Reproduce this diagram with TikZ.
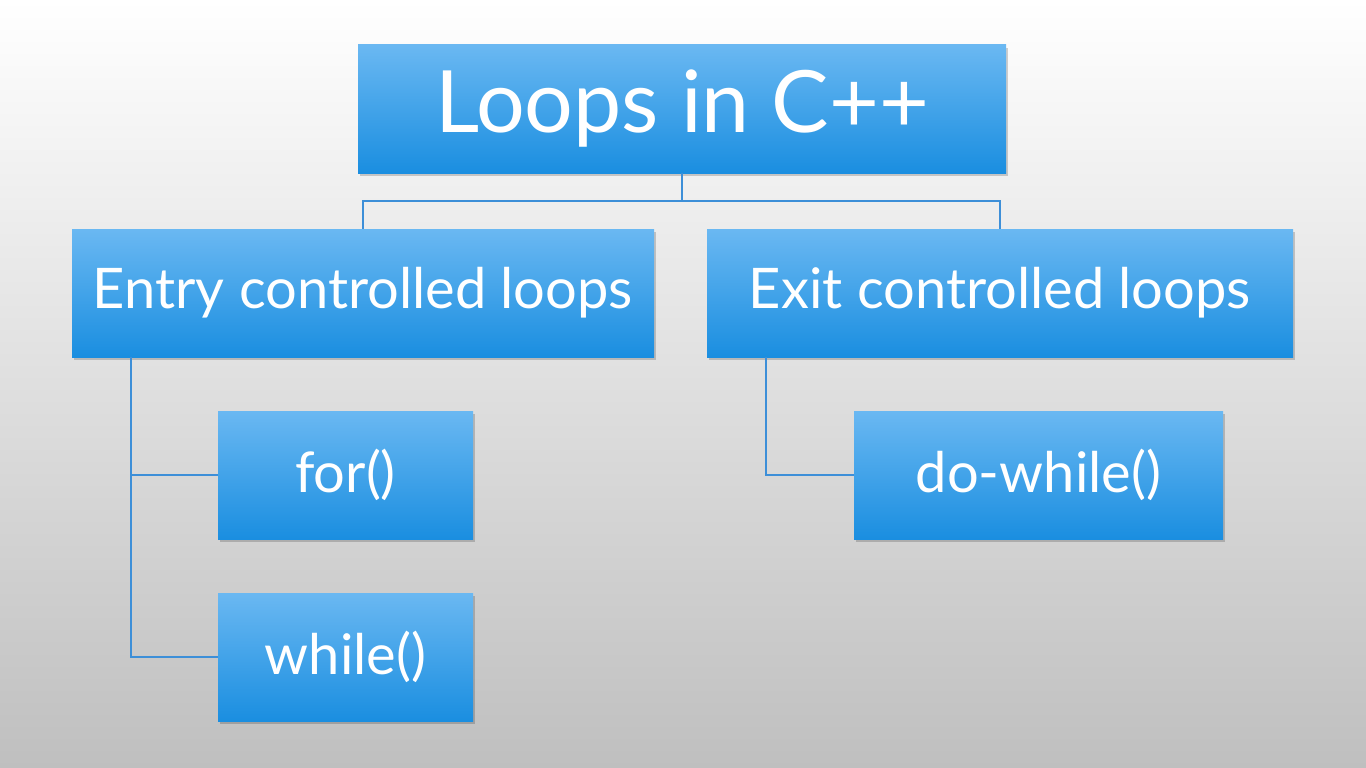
\documentclass[tikz,border=0pt]{standalone}
\usepackage{fontspec}
\setmainfont{Lato}
\usepackage{tikz}
\usetikzlibrary{shadows}
\definecolor{hautbleu}{HTML}{6AB8F2}
\definecolor{basbleu}{HTML}{1A8EE0}
\definecolor{trait}{HTML}{3D8FD8}
\definecolor{fondmilieu}{HTML}{EBEBEB}
\definecolor{fondbas}{HTML}{BFBFBF}
\tikzset{
  boite/.style={rectangle, top color=hautbleu, bottom color=basbleu, draw=none,
    text=white, inner sep=0pt, outer sep=0pt, align=center,
    minimum height=128pt,
    drop shadow={shadow xshift=2pt, shadow yshift=-3pt, opacity=0.18, fill=black}},
  titre/.style={boite, font=\fontsize{86}{96}\selectfont},
  sous/.style={boite, font=\fontsize{56}{62}\selectfont},
  lien/.style={draw=trait, line width=1.1pt},
}

\begin{document}
\begin{tikzpicture}[x=1pt, y=-1pt]
    % fond
    \shade[top color=white, middle color=fondmilieu, bottom color=fondbas]
      (0,0) rectangle (1366,768);
    \useasboundingbox (0,0) rectangle (1366,768);

    \node[titre, minimum width=648pt] (loops) at (682,109) {Loops in C++};
    \node[sous, minimum width=582pt] (entry) at (363,293) {Entry controlled loops};
    \node[sous, minimum width=586pt] (exit) at (1000,293) {Exit controlled loops};
    \node[sous, minimum width=255pt] (for) at (345.5,475) {for()};
    \node[sous, minimum width=255pt] (while) at (345.5,657) {while()};
    \node[sous, minimum width=369pt] (dowhile) at (1038.5,475) {do-while()};

    \coordinate (fourche) at ([yshift=-28pt]loops.south);
    \coordinate (brasentry) at ([xshift=59pt]entry.south west);
    \coordinate (brasexit) at ([xshift=59pt]exit.south west);

    \draw[lien] (loops.south) -- (fourche);
    \draw[lien] (fourche) -| (entry.north);
    \draw[lien] (fourche) -| (exit.north);
    \draw[lien] (brasentry) |- (for.west);
    \draw[lien] (brasentry) |- (while.west);
    \draw[lien] (brasexit) |- (dowhile.west);
  \end{tikzpicture}
\end{document}
